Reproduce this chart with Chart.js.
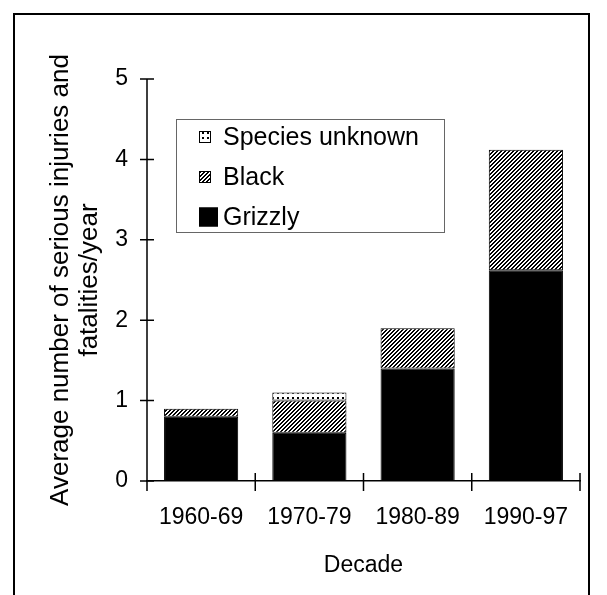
<!DOCTYPE html>
<html>
<head>
<meta charset="utf-8">
<script src="https://cdn.jsdelivr.net/npm/chart.js@4.4.0/dist/chart.umd.min.js"></script>
<style>
  html, body { margin: 0; padding: 0; background: #fff; }
  #wrap { width: 607px; height: 595px; }
</style>
</head>
<body>
<div id="wrap"><canvas id="bearChart" width="607" height="595"></canvas></div>
<script>
// data
const decades = ['1960-69', '1970-79', '1980-89', '1990-97'];
const grizzly = [0.8, 0.6, 1.4, 2.62];
const black = [0.1, 0.4, 0.5, 1.5];
const speciesUnknown = [0, 0.1, 0, 0];
const yTicks = [0, 1, 2, 3, 4, 5];

const FONT = '"Liberation Sans", Arial, sans-serif';

function hatchPattern() {
  const c = document.createElement('canvas');
  c.width = 4; c.height = 4;
  const g = c.getContext('2d');
  g.fillStyle = '#fff';
  g.fillRect(0, 0, 4, 4);
  g.fillStyle = '#000';
  for (let y = 0; y < 4; y++) {
    const x0 = 3 - y;
    g.fillRect(x0, y, 2, 1);
    if (x0 + 2 > 4) g.fillRect(0, y, 1, 1);
  }
  return g.createPattern(c, 'repeat');
}

function dotPattern() {
  const c = document.createElement('canvas');
  c.width = 5; c.height = 5;
  const g = c.getContext('2d');
  g.fillStyle = '#fff';
  g.fillRect(0, 0, 5, 5);
  g.fillStyle = '#000';
  g.fillRect(2, 2, 2, 2);
  return g.createPattern(c, 'repeat');
}

const frameAndTicks = {
  id: 'frameAndTicks',
  beforeDraw(chart) {
    const ctx = chart.ctx;
    ctx.save();
    ctx.fillStyle = '#fff';
    ctx.fillRect(0, 0, chart.width, chart.height);
    ctx.strokeStyle = '#000';
    ctx.lineWidth = 2;
    ctx.beginPath();
    ctx.moveTo(14, chart.height + 2);
    ctx.lineTo(14, 14);
    ctx.lineTo(589, 14);
    ctx.lineTo(589, chart.height + 2);
    ctx.stroke();
    ctx.restore();
  },
  afterDraw(chart) {
    const ctx = chart.ctx;
    const area = chart.chartArea;
    const x = chart.scales.x, y = chart.scales.y;
    ctx.save();
    ctx.strokeStyle = '#000';
    ctx.lineWidth = 1.5;
    ctx.beginPath();
    // y axis runs a little below zero
    ctx.moveTo(area.left, area.top);
    ctx.lineTo(area.left, area.bottom + 10);
    yTicks.forEach(v => {
      const py = y.getPixelForValue(v);
      ctx.moveTo(area.left - 7, py);
      ctx.lineTo(area.left + 7, py);
    });
    for (let i = 0; i < decades.length; i++) {
      const px = i < decades.length - 1
        ? (x.getPixelForValue(i) + x.getPixelForValue(i + 1)) / 2
        : area.right;
      ctx.moveTo(px, area.bottom - 8);
      ctx.lineTo(px, area.bottom + 10);
    }
    ctx.stroke();

    // legend box
    const lx = area.left + 29, ly = area.top + 40;
    ctx.strokeStyle = '#666';
    ctx.lineWidth = 1;
    ctx.strokeRect(lx + 0.5, ly + 0.5, 268, 113);
    const rows = chart.data.datasets.slice().reverse();
    const sizes = [12, 12, 19];
    ctx.font = '25px ' + FONT;
    ctx.textBaseline = 'middle';
    ctx.textAlign = 'left';
    rows.forEach((ds, i) => {
      const cy = ly + 18 + i * 40;
      const s = sizes[i];
      ctx.fillStyle = ds.backgroundColor;
      ctx.fillRect(lx + 23, cy - s / 2, s, s);
      ctx.strokeStyle = '#000';
      ctx.strokeRect(lx + 23.5, cy - s / 2 + 0.5, s - 1, s - 1);
      ctx.fillStyle = '#000';
      ctx.fillText(ds.label, lx + 47, cy + 1);
    });
    ctx.restore();
  }
};

const ctx = document.getElementById('bearChart').getContext('2d');
new Chart(ctx, {
  type: 'bar',
  data: {
    labels: decades,
    datasets: [
      { label: 'Grizzly', data: grizzly, backgroundColor: '#000' },
      { label: 'Black', data: black, backgroundColor: hatchPattern() },
      { label: 'Species unknown', data: speciesUnknown, backgroundColor: dotPattern() }
    ]
  },
  plugins: [frameAndTicks],
  options: {
    responsive: false,
    animation: false,
    layout: { padding: { left: 0, top: 79, right: 27, bottom: 0 } },
    datasets: {
      bar: {
        borderColor: '#000',
        borderWidth: 1,
        borderSkipped: false,
        categoryPercentage: 1,
        barPercentage: 0.685
      }
    },
    plugins: {
      legend: { display: false },
      tooltip: { enabled: false }
    },
    scales: {
      x: {
        stacked: true,
        grid: { display: false, drawTicks: false },
        border: { display: true, color: '#000', width: 1.5 },
        ticks: {
          color: '#000',
          font: { family: FONT, size: 23 },
          padding: 23,
          maxRotation: 0
        },
        title: {
          display: true,
          text: 'Decade',
          color: '#000',
          font: { family: FONT, size: 23 },
          padding: { top: 0, bottom: 16 }
        },
        afterFit(scale) { scale.height = 114; }
      },
      y: {
        stacked: true,
        min: 0,
        max: 5,
        grid: { display: false, drawTicks: false },
        border: { display: false },
        ticks: {
          stepSize: 1,
          color: '#000',
          font: { family: FONT, size: 23 },
          padding: 19
        },
        title: {
          display: true,
          text: ['Average number of serious injuries and', 'fatalities/year'],
          color: '#000',
          font: { family: FONT, size: 26, lineHeight: 1.1 },
          padding: { top: 47, bottom: 0 }
        },
        afterFit(scale) { scale.width = 147; }
      }
    }
  }
});
</script>
</body>
</html>
